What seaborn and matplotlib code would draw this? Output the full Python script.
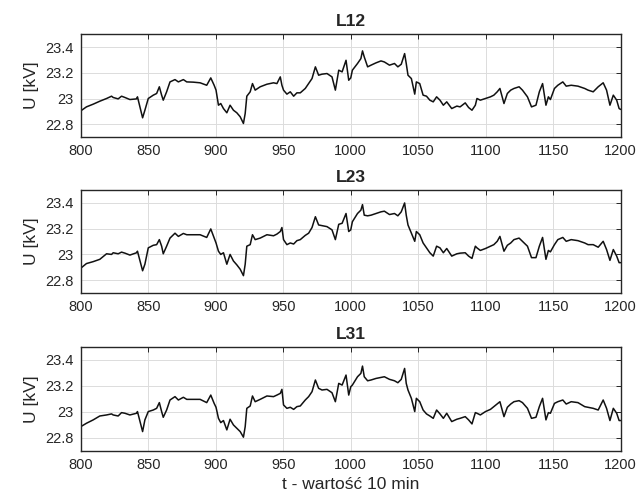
import matplotlib

matplotlib.use("Agg")
import matplotlib.pyplot as plt
import pandas as pd
import seaborn as sns

# time axis (10-min samples)
t = [
    800, 804.2, 809.2, 814.1, 819.1, 822.8, 824.0, 827.7, 830.2, 832.7,
    836.4, 841.3, 842.0, 845.8, 847.5, 850, 853.7, 856.2, 858.2, 859.9,
    861.1, 863.6, 866.1, 869.8, 872.3, 876.0, 878.5, 883.4, 888.4, 893.3,
    896.3, 898.8, 900.2, 902.0, 903.7, 905.7, 908.2, 910.6, 913.1, 915.6,
    918.1, 920.5, 921.8, 923.0, 925.5, 927.2, 929.2, 932.9, 937.9, 942.8,
    945.3, 947.8, 949.0, 950.2, 952.7, 955.2, 957.7, 960.1, 962.6, 966.3,
    968.8, 971.3, 973.8, 976.2, 978.7, 982.4, 986.1, 988.6, 991.1, 993.6,
    996.5, 998.5,
    1000, 1001.2, 1005.0, 1007.5, 1008.7, 1010.0, 1012.5, 1015.0, 1018.7, 1022.4,
    1024.9, 1028.7, 1032.4, 1034.9, 1037.4, 1039.9, 1041.1, 1042.4, 1044.9, 1047.4,
    1048.6, 1051.1, 1053.6, 1056.1, 1058.6, 1061.1, 1063.6, 1066.1, 1068.6, 1071.1,
    1074.8, 1078.6, 1081.0, 1084.8, 1087.3, 1089.8, 1092.3, 1093.5, 1096.0, 1099.8,
    1103.5, 1106.0, 1108.5, 1110.5, 1113.5, 1116.0, 1118.5, 1120.9, 1124.7, 1127.2,
    1130.9, 1133.9, 1137.2, 1139.7, 1142.1, 1144.6, 1146.4, 1147.9, 1150.9, 1153.4,
    1157.1, 1159.6, 1163.3, 1168.3, 1173.3, 1175.8, 1179.6, 1183.3, 1187.0, 1189.5,
    1192.0, 1194.5, 1197.0, 1198.8, 1200,
]

u_l12 = [
    22.904, 22.935, 22.956, 22.979, 23.000, 23.018, 23.008, 22.997, 23.018, 23.008,
    22.992, 22.997, 23.013, 22.850, 22.909, 23.000, 23.026, 23.039, 23.091, 23.026,
    22.987, 23.052, 23.129, 23.147, 23.129, 23.147, 23.129, 23.127, 23.122, 23.103,
    23.160, 23.103, 23.065, 22.948, 22.961, 22.922, 22.889, 22.948, 22.909, 22.889,
    22.858, 22.806, 22.884, 23.018, 23.052, 23.116, 23.065, 23.091, 23.111, 23.122,
    23.116, 23.168, 23.103, 23.065, 23.034, 23.052, 23.018, 23.044, 23.044, 23.078,
    23.116, 23.155, 23.246, 23.181, 23.189, 23.194, 23.168, 23.065, 23.220, 23.207,
    23.297, 23.142,
    23.160, 23.220, 23.272, 23.310, 23.370, 23.323, 23.246, 23.259, 23.277, 23.292,
    23.284, 23.259, 23.272, 23.246, 23.266, 23.349, 23.272, 23.181, 23.155, 23.034,
    23.129, 23.116, 23.026, 23.018, 22.987, 22.974, 23.013, 22.987, 22.948, 22.974,
    22.922, 22.941, 22.935, 22.966, 22.930, 22.909, 22.948, 23.000, 22.987, 23.000,
    23.013, 23.026, 23.052, 23.078, 22.961, 23.039, 23.065, 23.078, 23.091, 23.065,
    23.013, 22.935, 22.948, 23.052, 23.116, 22.948, 23.013, 22.992, 23.078, 23.103,
    23.129, 23.096, 23.103, 23.096, 23.078, 23.065, 23.052, 23.091, 23.122, 23.065,
    22.948, 23.026, 22.987, 22.922, 22.915,
]

u_l23 = [
    22.893, 22.929, 22.944, 22.962, 23.005, 23.000, 23.013, 23.005, 23.018, 23.010,
    22.995, 23.013, 23.025, 22.873, 22.924, 23.051, 23.071, 23.076, 23.115, 23.064,
    23.005, 23.064, 23.127, 23.165, 23.140, 23.163, 23.153, 23.153, 23.153, 23.132,
    23.198, 23.127, 23.089, 23.025, 23.000, 23.013, 22.924, 23.000, 22.949, 22.919,
    22.885, 22.835, 22.924, 23.064, 23.076, 23.153, 23.115, 23.127, 23.153, 23.145,
    23.158, 23.178, 23.209, 23.115, 23.076, 23.089, 23.081, 23.107, 23.115, 23.148,
    23.165, 23.209, 23.293, 23.229, 23.224, 23.216, 23.191, 23.115, 23.234, 23.242,
    23.318, 23.178,
    23.191, 23.254, 23.318, 23.344, 23.387, 23.305, 23.300, 23.305, 23.318, 23.331,
    23.336, 23.310, 23.318, 23.300, 23.331, 23.400, 23.305, 23.229, 23.165, 23.102,
    23.178, 23.153, 23.089, 23.051, 23.013, 22.987, 23.064, 23.051, 23.013, 23.046,
    22.987, 23.005, 23.010, 23.013, 22.987, 22.969, 23.064, 23.051, 23.031, 23.046,
    23.064, 23.076, 23.102, 23.140, 23.025, 23.071, 23.089, 23.115, 23.127, 23.102,
    23.064, 22.975, 22.975, 23.064, 23.132, 22.962, 23.031, 23.020, 23.076, 23.115,
    23.132, 23.102, 23.115, 23.107, 23.089, 23.076, 23.076, 23.056, 23.102, 23.038,
    22.954, 23.038, 22.987, 22.936, 22.936,
]

u_l31 = [
    22.887, 22.913, 22.939, 22.969, 22.977, 22.985, 22.977, 22.969, 22.995, 22.990,
    22.977, 22.990, 23.003, 22.849, 22.939, 23.003, 23.015, 23.028, 23.072, 23.003,
    22.959, 23.015, 23.092, 23.118, 23.092, 23.113, 23.097, 23.097, 23.097, 23.072,
    23.130, 23.066, 23.036, 22.951, 22.918, 22.934, 22.862, 22.944, 22.900, 22.875,
    22.849, 22.806, 22.887, 23.028, 23.046, 23.123, 23.079, 23.097, 23.123, 23.118,
    23.130, 23.143, 23.174, 23.054, 23.028, 23.036, 23.020, 23.041, 23.046, 23.092,
    23.118, 23.156, 23.246, 23.182, 23.169, 23.174, 23.148, 23.079, 23.220, 23.207,
    23.284, 23.130,
    23.194, 23.207, 23.271, 23.297, 23.353, 23.271, 23.240, 23.246, 23.258, 23.266,
    23.271, 23.251, 23.240, 23.225, 23.251, 23.335, 23.220, 23.169, 23.105, 23.003,
    23.105, 23.079, 23.015, 22.985, 22.969, 22.951, 23.015, 22.985, 22.951, 22.990,
    22.926, 22.944, 22.951, 22.964, 22.939, 22.908, 22.995, 22.990, 22.977, 23.003,
    23.020, 23.041, 23.061, 23.079, 22.964, 23.036, 23.061, 23.079, 23.087, 23.072,
    23.028, 22.951, 22.959, 23.041, 23.105, 22.939, 22.995, 22.990, 23.066, 23.079,
    23.092, 23.061, 23.079, 23.072, 23.041, 23.036, 23.028, 23.015, 23.092, 23.028,
    22.934, 23.028, 22.990, 22.934, 22.934,
]

titles = ["L12", "L23", "L31"]
y_ticks = [22.8, 23.0, 23.2, 23.4]
y_tick_labels = ["22.8", "23", "23.2", "23.4"]
x_ticks = [800, 850, 900, 950, 1000, 1050, 1100, 1150, 1200]


def main():
    series = [u_l12, u_l23, u_l31]
    for s in series:
        assert len(s) == len(t), (len(s), len(t))

    sns.set_theme(style="white")
    plt.rcParams["font.family"] = ["Liberation Sans", "DejaVu Sans"]
    plt.rcParams["xtick.direction"] = "in"
    plt.rcParams["ytick.direction"] = "in"

    fig = plt.figure(figsize=(6.36, 4.95), dpi=100)
    # axes boxes in figure fractions: left, bottom, width, height
    boxes = [
        [0.127, 0.723, 0.849, 0.208],
        [0.127, 0.408, 0.849, 0.208],
        [0.127, 0.089, 0.849, 0.210],
    ]

    for i, (name, u) in enumerate(zip(titles, series)):
        ax = fig.add_axes(boxes[i])
        df = pd.DataFrame({"t": t, "U": u})
        sns.lineplot(data=df, x="t", y="U", ax=ax, color="#111111", linewidth=1.1)

        ax.set_xlim(800, 1200)
        ax.set_ylim(22.7, 23.5)
        ax.set_xticks(x_ticks)
        ax.set_yticks(y_ticks)
        ax.set_yticklabels(y_tick_labels)
        ax.grid(True, color="#dcdcdc", linewidth=0.7)
        ax.tick_params(
            axis="both", which="both", labelsize=10.5, length=3.5, width=0.7,
            colors="#262626", top=True, right=True, pad=5,
        )
        for sp in ax.spines.values():
            sp.set_color("#262626")
            sp.set_linewidth(1.0)

        ax.set_title(name, fontsize=12.5, fontweight="bold", pad=6)
        ax.set_ylabel("U [kV]", fontsize=12.5, labelpad=5)
        if i == 2:
            ax.set_xlabel("t - wartość 10 min", fontsize=12.5, labelpad=4)
        else:
            ax.set_xlabel("")

    fig.savefig("out.png", dpi=100, facecolor="white")


if __name__ == "__main__":
    main()
